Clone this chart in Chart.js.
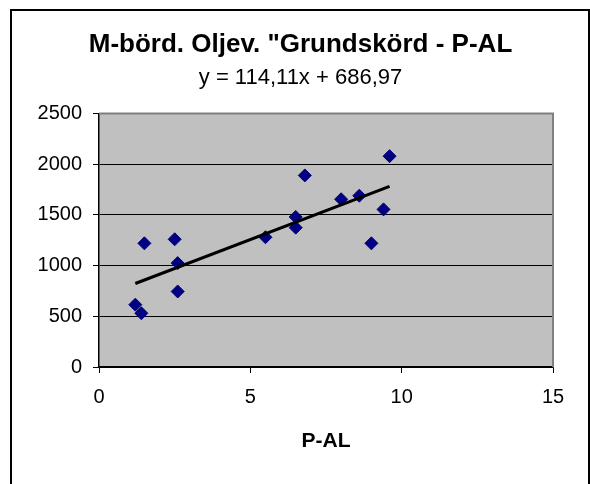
<!DOCTYPE html>
<html>
<head>
<meta charset="utf-8">
<script src="https://cdn.jsdelivr.net/npm/chart.js@4"></script>
<style>
  html, body { margin: 0; padding: 0; background: #fff; }
  #wrap { width: 590px; height: 484px; }
</style>
</head>
<body>
<div id="wrap"><canvas id="myChart" width="590" height="484"></canvas></div>
<script>
// P-AL vs grundskörd
let pal = [1.2, 1.4, 1.5, 2.5, 2.6, 2.6, 5.5, 6.5, 6.5, 6.8, 8.0, 8.6, 9.0, 9.4, 9.6];
let skord = [615, 530, 1220, 1260, 1025, 745, 1280, 1480, 1375, 1890, 1655, 1690, 1220, 1555, 2080];

// trend line ends (y = 114,11x + 686,97)
let trendX = [1.2, 9.6];
let trendY = [824, 1782];

let xTicks = [0, 5, 10, 15];
let yTicks = [0, 500, 1000, 1500, 2000, 2500];

let titleText = 'M-börd. Oljev. "Grundskörd - P-AL';
let eqText = 'y = 114,11x + 686,97';
let xTitle = 'P-AL';

Chart.defaults.font.family = "'Liberation Sans', Arial, sans-serif";
Chart.defaults.color = '#000';

let points = [];
for (let i = 0; i < pal.length; i++) {
    points.push({ x: pal[i], y: skord[i] });
}
let trend = [];
for (let i = 0; i < trendX.length; i++) {
    trend.push({ x: trendX[i], y: trendY[i] });
}

// white page, outer frame, grey plot area
const frame = {
    id: 'frame',
    beforeDraw(chart) {
        const ctx = chart.ctx;
        const a = chart.chartArea;
        ctx.save();
        ctx.fillStyle = '#fff';
        ctx.fillRect(0, 0, chart.width, chart.height);
        ctx.strokeStyle = '#000';
        ctx.lineWidth = 2;
        ctx.strokeRect(11, 10, 578, 490);
        ctx.fillStyle = '#c0c0c0';
        ctx.fillRect(a.left, a.top, a.right - a.left, a.bottom - a.top);
        ctx.restore();
    },
    afterDatasetsDraw(chart) {
        const ctx = chart.ctx;
        const a = chart.chartArea;
        ctx.save();
        ctx.strokeStyle = '#808080';
        ctx.lineWidth = 2;
        ctx.beginPath();
        ctx.moveTo(a.left, a.top);
        ctx.lineTo(a.right, a.top);
        ctx.lineTo(a.right, a.bottom);
        ctx.stroke();
        ctx.restore();
    }
};

var ctx = document.getElementById('myChart').getContext('2d');
var chart = new Chart(ctx, {
    type: 'scatter',
    data: {
        datasets: [{
            label: 'Grundskörd',
            data: points,
            pointStyle: 'rectRot',
            pointRadius: 6.5,
            pointHoverRadius: 6.5,
            backgroundColor: '#000080',
            borderColor: '#000080',
            borderWidth: 1,
            order: 1
        }, {
            label: 'Trend',
            type: 'line',
            data: trend,
            borderColor: '#000',
            borderWidth: 3,
            pointRadius: 0,
            fill: false,
            order: 0
        }]
    },
    options: {
        responsive: false,
        animation: false,
        layout: {
            padding: { left: 11, right: 0, top: 10, bottom: 27 }
        },
        plugins: {
            legend: { display: false },
            tooltip: { enabled: false },
            title: {
                display: true,
                text: titleText,
                font: { size: 26, weight: 'bold' },
                padding: { top: 19, bottom: 0 }
            },
            subtitle: {
                display: true,
                text: eqText,
                font: { size: 22 },
                padding: { top: 5, bottom: 22 }
            }
        },
        scales: {
            x: {
                type: 'linear',
                min: 0,
                max: 15,
                afterBuildTicks: (axis) => { axis.ticks = xTicks.map(v => ({ value: v })); },
                afterFit: (axis) => { axis.height = 90; },
                border: { color: '#000', width: 1.5 },
                grid: { drawOnChartArea: false, drawTicks: true, tickLength: 6, tickColor: '#000' },
                ticks: { font: { size: 20 }, padding: 12 },
                title: {
                    display: true,
                    text: xTitle,
                    font: { size: 21, weight: 'bold' },
                    padding: { top: 0, bottom: 3 }
                }
            },
            y: {
                type: 'linear',
                min: 0,
                max: 2500,
                afterBuildTicks: (axis) => { axis.ticks = yTicks.map(v => ({ value: v })); },
                afterFit: (axis) => { axis.width = 88; },
                border: { color: '#000', width: 1.5 },
                grid: {
                    color: (c) => (c.tick && c.tick.value === 2500 ? '#808080' : '#000'),
                    lineWidth: 1,
                    tickLength: 6,
                    tickColor: '#000'
                },
                ticks: { font: { size: 20 }, padding: 11, callback: (v) => String(v) }
            },
            // empty box on the right, keeps the plot narrower than the frame
            yRight: {
                type: 'linear',
                position: 'right',
                min: 0,
                max: 2500,
                afterFit: (axis) => { axis.width = 37; },
                border: { display: false },
                grid: { display: false },
                ticks: { display: false }
            }
        }
    },
    plugins: [frame]
});
</script>
</body>
</html>
